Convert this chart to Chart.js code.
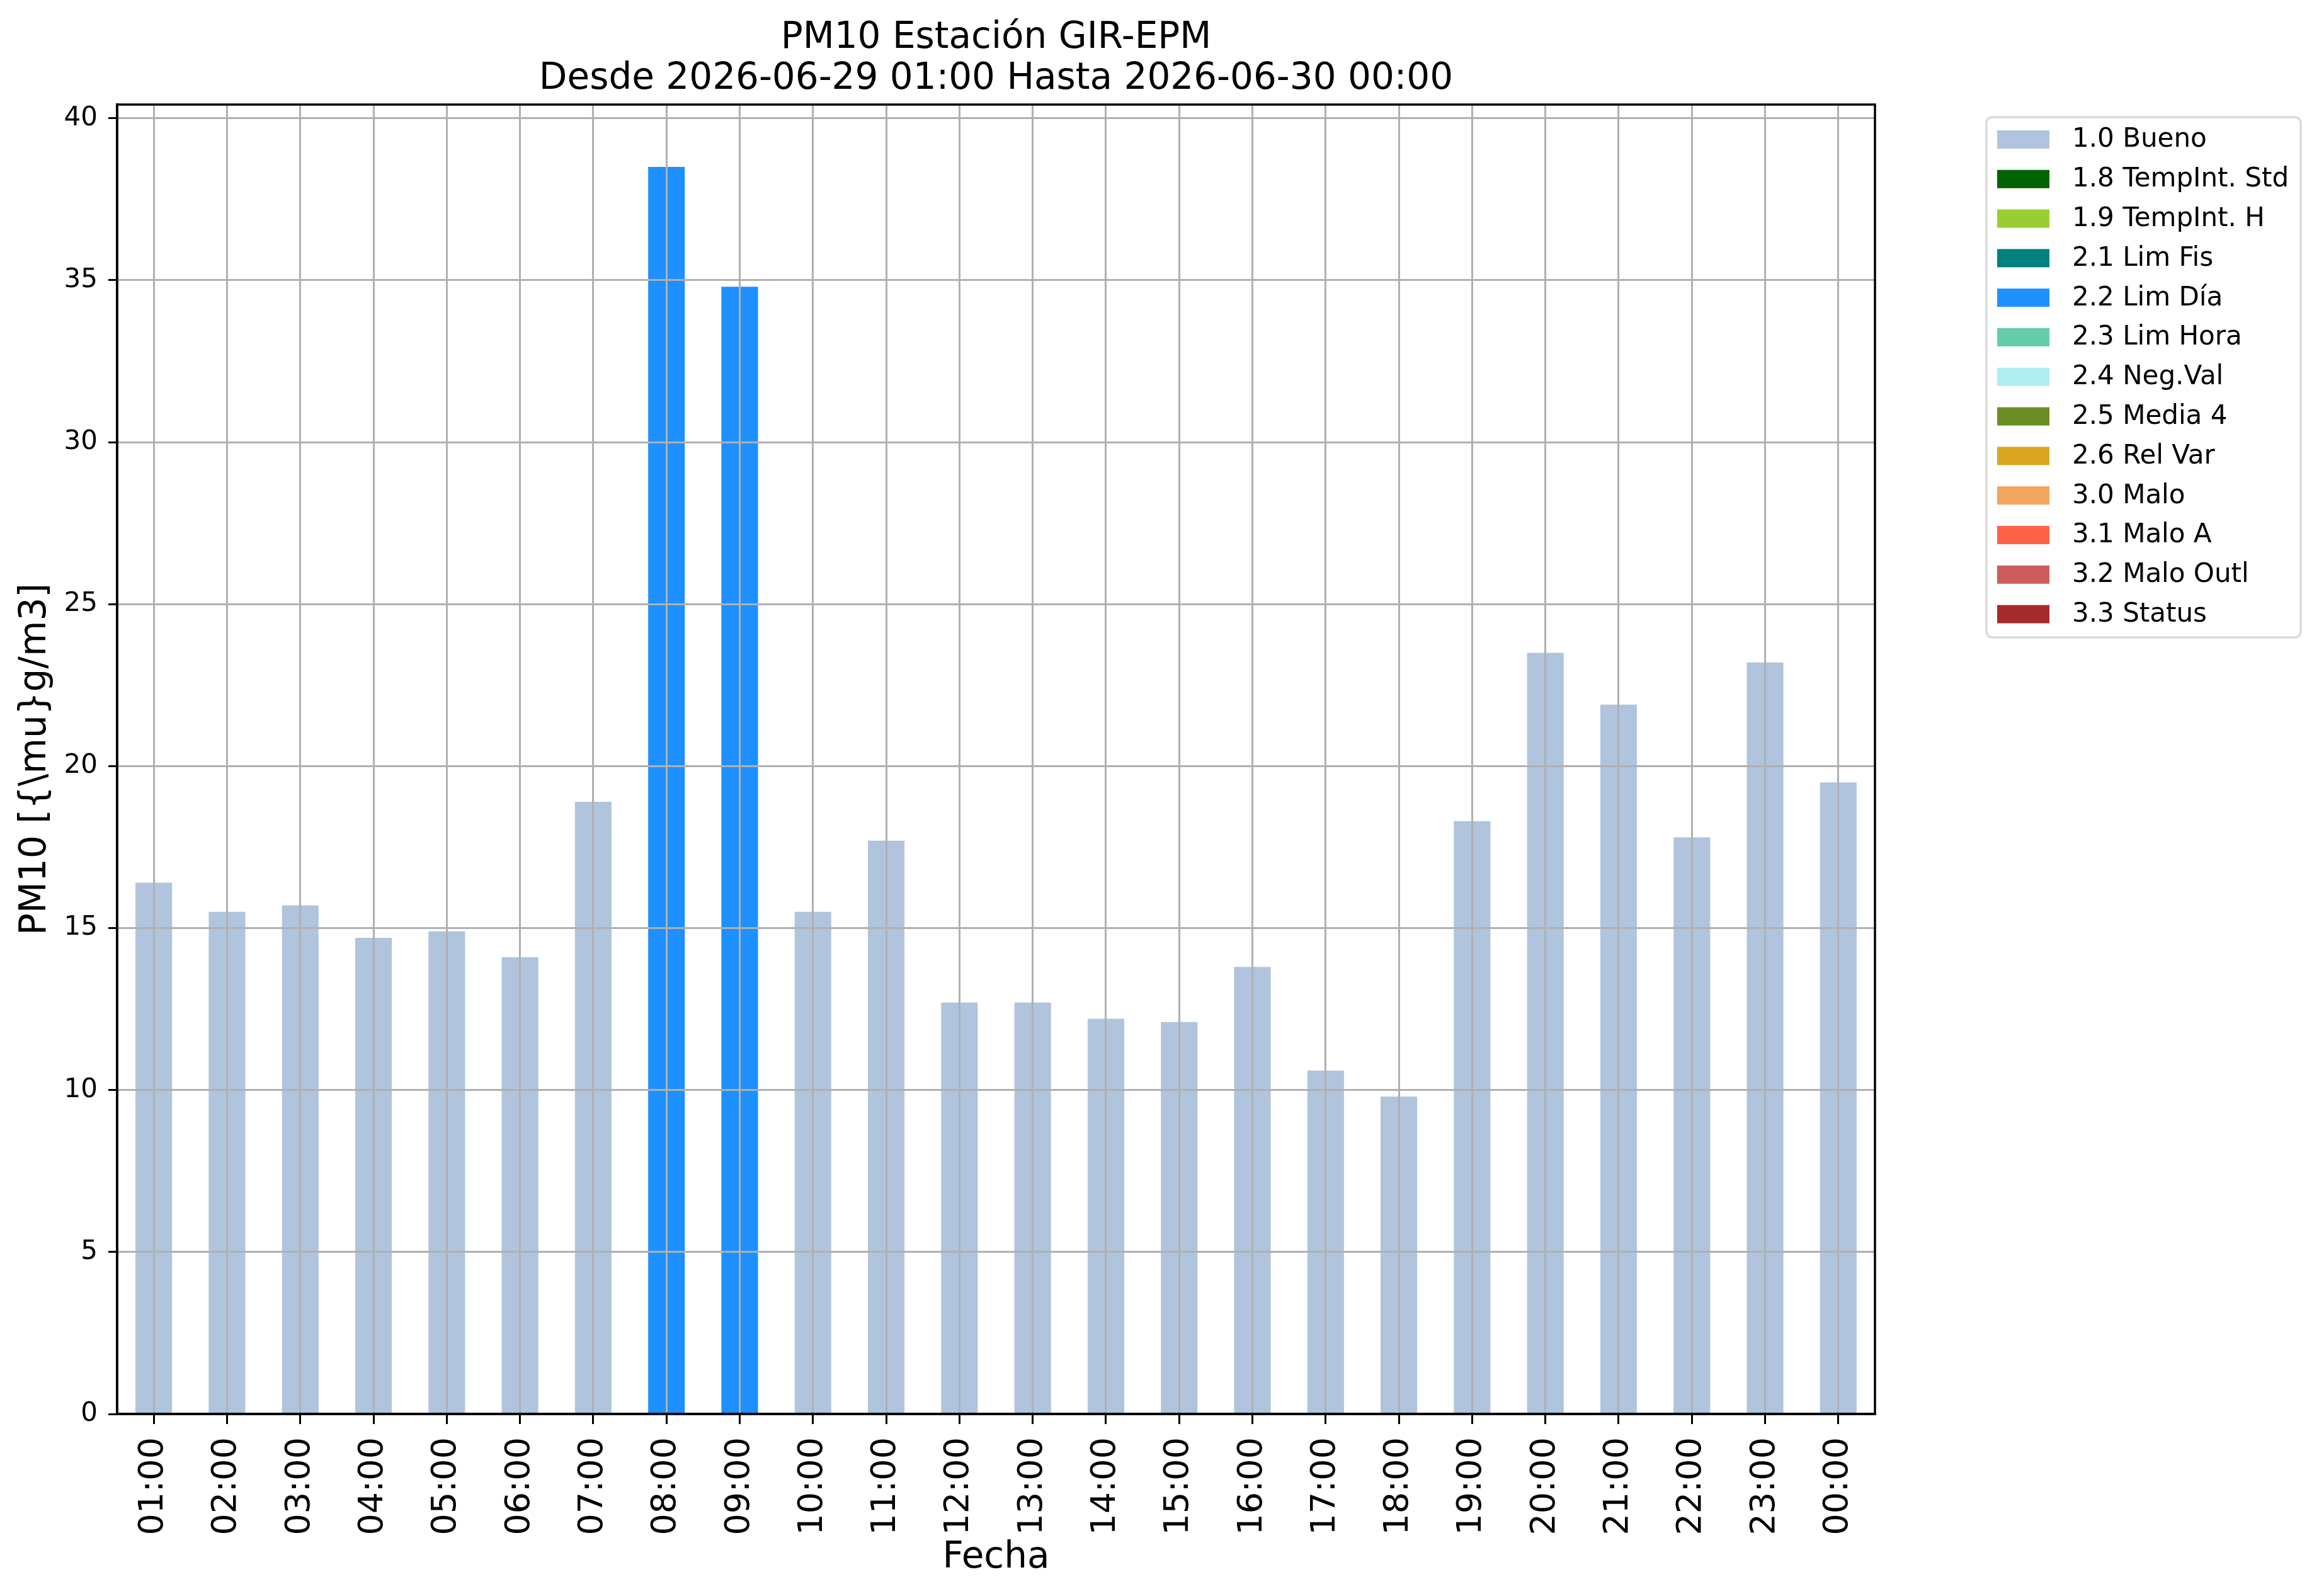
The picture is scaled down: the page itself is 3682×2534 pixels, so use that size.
<!DOCTYPE html>
<html>
<head>
<meta charset="utf-8">
<script src="https://cdn.jsdelivr.net/npm/chart.js@4.4.1/dist/chart.umd.min.js"></script>
<style>
  html, body { margin: 0; padding: 0; background: #ffffff; }
  canvas { display: block; }
</style>
</head>
<body>
<canvas id="pm10-chart" width="3682" height="2534"></canvas>
<script>
const horas = [
  "01:00", "02:00", "03:00", "04:00", "05:00", "06:00",
  "07:00", "08:00", "09:00", "10:00", "11:00", "12:00",
  "13:00", "14:00", "15:00", "16:00", "17:00", "18:00",
  "19:00", "20:00", "21:00", "22:00", "23:00", "00:00"
];

const valores = [
  16.4, 15.5, 15.7, 14.7, 14.9, 14.1,
  18.9, 38.5, 34.8, 15.5, 17.7, 12.7,
  12.7, 12.2, 12.1, 13.8, 10.6, 9.8,
  18.3, 23.5, 21.9, 17.8, 23.2, 19.5
];

const banderas = [
  "1.0", "1.0", "1.0", "1.0", "1.0", "1.0",
  "1.0", "2.2", "2.2", "1.0", "1.0", "1.0",
  "1.0", "1.0", "1.0", "1.0", "1.0", "1.0",
  "1.0", "1.0", "1.0", "1.0", "1.0", "1.0"
];

const codigos = [
  "1.0", "1.8", "1.9", "2.1", "2.2", "2.3", "2.4",
  "2.5", "2.6", "3.0", "3.1", "3.2", "3.3"
];

const nombres = [
  "1.0 Bueno", "1.8 TempInt. Std", "1.9 TempInt. H", "2.1 Lim Fis",
  "2.2 Lim Día", "2.3 Lim Hora", "2.4 Neg.Val", "2.5 Media 4",
  "2.6 Rel Var", "3.0 Malo", "3.1 Malo A", "3.2 Malo Outl", "3.3 Status"
];

const colores = [
  "#b0c4de", "#006400", "#9acd32", "#008080", "#1e90ff", "#66cdaa", "#afeeee",
  "#6b8e23", "#daa520", "#f4a460", "#ff6347", "#cd5c5c", "#a52a2a"
];

const yTicks = [0, 5, 10, 15, 20, 25, 30, 35, 40];

const FONT = "'DejaVu Sans', sans-serif";

// one stacked dataset per quality flag, empty where the flag does not apply
const datasets = codigos.map((codigo, k) => ({
  label: nombres[k],
  data: valores.map((v, i) => (banderas[i] === codigo ? v : null)),
  backgroundColor: colores[k],
  borderWidth: 0,
  categoryPercentage: 1,
  barPercentage: 0.5
}));

const decorPlugin = {
  id: "decor",
  afterDraw(chart) {
    const ctx = chart.ctx;
    const area = chart.chartArea;

    // frame (top and right spines)
    ctx.save();
    ctx.strokeStyle = "#000000";
    ctx.lineWidth = 3.5;
    ctx.strokeRect(area.left, area.top, area.right - area.left, area.bottom - area.top);
    ctx.restore();

    // title
    const cx = (area.left + area.right) / 2;
    ctx.save();
    ctx.fillStyle = "#000000";
    ctx.font = "58px " + FONT;
    ctx.textAlign = "center";
    ctx.textBaseline = "alphabetic";
    ctx.fillText("PM10 Estación GIR-EPM", cx, 76);
    ctx.fillText("Desde 2026-06-29 01:00 Hasta 2026-06-30 00:00", cx, 141);
    ctx.restore();

    // legend
    const boxLeft = 3154, boxTop = 186, boxRight = 3653, boxBottom = 1012;
    ctx.save();
    ctx.beginPath();
    ctx.roundRect(boxLeft, boxTop, boxRight - boxLeft, boxBottom - boxTop, 9);
    ctx.fillStyle = "#ffffff";
    ctx.fill();
    ctx.strokeStyle = "#d6d6d6";
    ctx.lineWidth = 3;
    ctx.stroke();

    ctx.font = "42px " + FONT;
    ctx.textAlign = "left";
    ctx.textBaseline = "middle";
    chart.data.datasets.forEach((ds, k) => {
      const cy = 221.5 + k * 62.8;
      ctx.fillStyle = ds.backgroundColor;
      ctx.fillRect(3171, cy - 14.5, 83, 29);
      ctx.fillStyle = "#000000";
      ctx.fillText(ds.label, 3290, cy + 1);
    });
    ctx.restore();
  }
};

new Chart(document.getElementById("pm10-chart"), {
  type: "bar",
  data: {
    labels: horas,
    datasets: datasets
  },
  options: {
    responsive: false,
    devicePixelRatio: 1,
    animation: false,
    layout: {
      padding: { top: 166, right: 705, bottom: 0, left: 0 }
    },
    plugins: {
      legend: { display: false },
      title: { display: false },
      tooltip: { enabled: false }
    },
    scales: {
      x: {
        stacked: true,
        offset: true,
        grid: {
          offset: false,
          color: "#b0b0b0",
          lineWidth: 3,
          z: 1,
          drawTicks: true,
          tickLength: 16,
          tickColor: "#000000",
          tickWidth: 3
        },
        border: { color: "#000000", width: 3.5, z: 2 },
        ticks: {
          autoSkip: false,
          maxRotation: 90,
          minRotation: 90,
          padding: 21,
          color: "#000000",
          font: { family: FONT, size: 54 }
        },
        title: {
          display: true,
          text: "Fecha",
          color: "#000000",
          font: { family: FONT, size: 58 },
          padding: { top: 0, bottom: 25 }
        },
        afterFit(scale) {
          scale.height = 289;
        }
      },
      y: {
        stacked: true,
        min: 0,
        max: 40.425,
        grid: {
          color: "#b0b0b0",
          lineWidth: 3,
          z: 1,
          drawTicks: true,
          tickLength: 14,
          tickColor: "#000000",
          tickWidth: 3
        },
        border: { color: "#000000", width: 3.5, z: 2 },
        afterBuildTicks(scale) {
          scale.ticks = yTicks.map((v) => ({ value: v }));
        },
        ticks: {
          includeBounds: false,
          padding: 17,
          color: "#000000",
          font: { family: FONT, size: 42 }
        },
        title: {
          display: true,
          text: "PM10 [{\\mu}g/m3]",
          color: "#000000",
          font: { family: FONT, size: 58 },
          padding: { top: 22, bottom: 0 }
        },
        afterFit(scale) {
          scale.width = 186;
        }
      }
    }
  },
  plugins: [decorPlugin]
});
</script>
</body>
</html>
